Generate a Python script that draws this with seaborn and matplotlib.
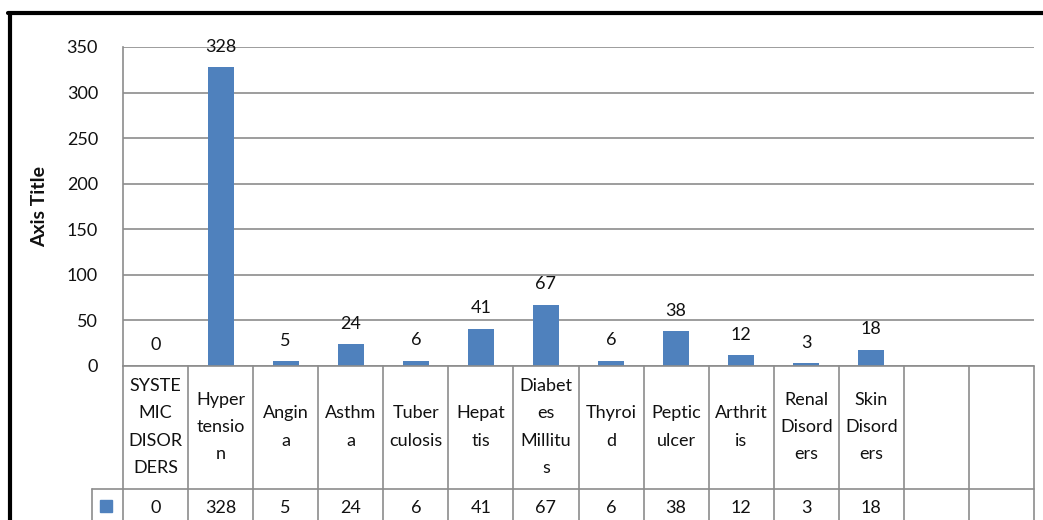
import matplotlib
matplotlib.use("Agg")
import matplotlib.pyplot as plt
import seaborn as sns
import pandas as pd
import numpy as np
from matplotlib.lines import Line2D
from matplotlib.patches import Rectangle

sns.set_theme(style="white")
plt.rcParams['font.family'] = ['Lato', 'DejaVu Sans']

categories = ["SYSTEMIC DISORDERS", "Hypertension", "Angina", "Asthma", "Tuberculosis",
              "Hepattis", "Diabetes Millitus", "Thyroid", "Peptic ulcer", "Arthritis",
              "Renal Disorders", "Skin Disorders", "", " "]
header_labels = ["SYSTE\nMIC\nDISOR\nDERS", "Hyper\ntensio\nn", "Angin\na", "Asthm\na",
                 "Tuber\nculosis", "Hepat\ntis", "Diabet\nes\nMillitu\ns", "Thyroi\nd",
                 "Peptic\nulcer", "Arthrit\nis", "Renal\nDisord\ners", "Skin\nDisord\ners", "", ""]
values = [0, 328, 5, 24, 6, 41, 67, 6, 38, 12, 3, 18, np.nan, np.nan]
yticks = [0, 50, 100, 150, 200, 250, 300, 350]

FS = 13
TXT = "#111111"
W, H = 1043, 520
fig = plt.figure(figsize=(W / 100, H / 100), dpi=100)
x0, x1, ytop, ybot = 123, 1034, 47, 366
ax = fig.add_axes([x0 / W, (H - ybot) / H, (x1 - x0) / W, (ybot - ytop) / H])

df = pd.DataFrame({"cat": categories, "val": values})
blue = "#4F81BD"
sns.barplot(data=df, x="cat", y="val", color=blue, width=0.4, saturation=1,
            ax=ax, edgecolor="none", order=categories)

ax.set_xlim(-0.5, len(categories) - 0.5)
ax.set_ylim(0, 350)
ax.set_yticks(yticks)
ax.set_yticklabels([str(t) for t in yticks], fontsize=FS, color=TXT)
ax.tick_params(axis="y", length=0, pad=18)
ax.set_xticks([])
ax.set_xlabel("")
ax.set_ylabel("")
ax.grid(axis="y", color="#8c8c8c", linewidth=1.2)
ax.set_axisbelow(True)
for s in ["top", "right", "bottom"]:
    ax.spines[s].set_visible(False)
ax.spines["left"].set_color("#8c8c8c")
ax.spines["left"].set_linewidth(1.2)

# value labels
for i, v in enumerate(values):
    if not np.isnan(v):
        ax.annotate(f"{int(v)}", (i, v), xytext=(0, 9),
                    textcoords="offset points", ha="center", va="bottom",
                    fontsize=FS, color=TXT)

# axis title
fig.text(40 / W, 1 - 207 / H, "Axis Title", rotation=90, ha="center", va="center",
         fontsize=14, fontweight="bold", color=TXT)

# data table
trans = ax.get_xaxis_transform()
ph = ybot - ytop
def yf(py):
    return -(py - ybot) / ph

gcol = "#8c8c8c"
n = len(categories)
catw = (x1 - x0) / n
xl = -0.5 - (x0 - 92) / catw
ax.add_line(Line2D([-0.5, n - 0.5], [0, 0], transform=trans, color=gcol, lw=1.2, clip_on=False))
ax.add_line(Line2D([xl, n - 0.5], [yf(489), yf(489)],
                   transform=trans, color=gcol, lw=1.2, clip_on=False))
for k in range(n + 1):
    ax.add_line(Line2D([k - 0.5, k - 0.5], [0, yf(530)], transform=trans,
                       color=gcol, lw=1.2, clip_on=False))
ax.add_line(Line2D([xl, xl], [yf(489), yf(530)], transform=trans,
                   color=gcol, lw=1.2, clip_on=False))

for i, lab in enumerate(header_labels):
    if lab:
        ax.text(i, yf(427), lab, transform=trans, ha="center", va="center",
                fontsize=FS, linespacing=1.85, color=TXT)
for i, v in enumerate(values):
    if not np.isnan(v):
        ax.text(i, yf(508), f"{int(v)}", transform=trans, ha="center", va="center",
                fontsize=FS, color=TXT)

# legend key
fig.patches.append(Rectangle((100 / W, 1 - 512 / H), 12 / W, 12 / H,
                             transform=fig.transFigure, color=blue))

# outer frame
fig.add_artist(Line2D([8 / W, 1.0], [1 - 13 / H, 1 - 13 / H], transform=fig.transFigure,
                      color="black", lw=3))
fig.add_artist(Line2D([10 / W, 10 / W], [1 - 13 / H, 0], transform=fig.transFigure,
                      color="black", lw=3))

fig.savefig("out.png", dpi=100, facecolor="white")
